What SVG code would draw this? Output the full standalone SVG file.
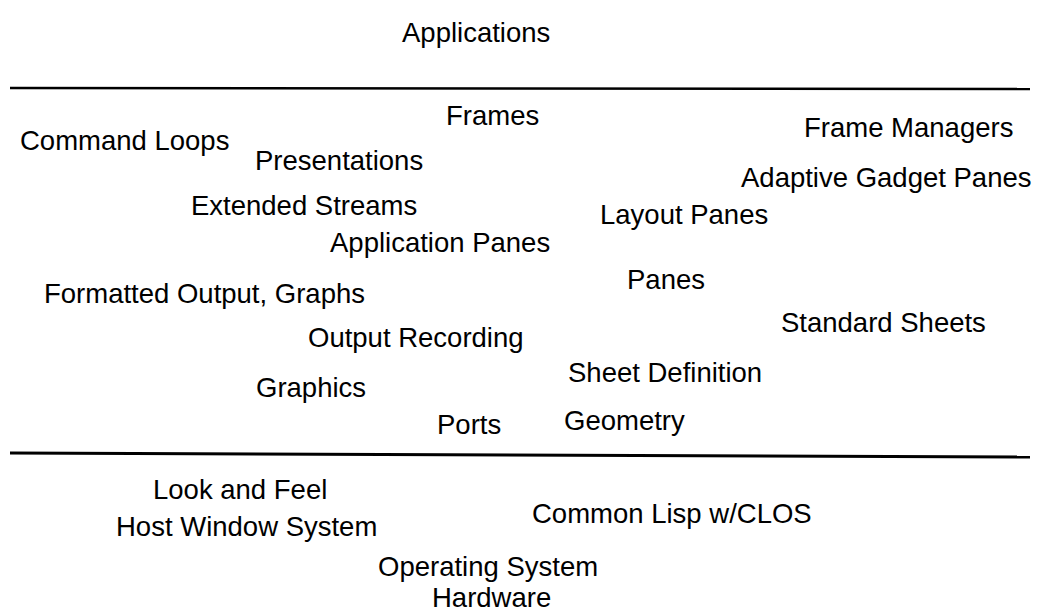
<svg xmlns="http://www.w3.org/2000/svg" width="1039" height="613" viewBox="0 0 1039 613">
<style>
text{font-family:"Liberation Sans",Arial,sans-serif;font-size:27.5px;fill:#000}
.rule{stroke:#000;fill:none}
</style>
<rect width="1039" height="613" fill="#fff"/>
<g id="connectors">
<line class="rule" x1="10" y1="88" x2="1030" y2="89" stroke-width="2.5"/>
<line class="rule" x1="10" y1="453" x2="1030" y2="457" stroke-width="3"/>
</g>
<g id="applications"><text x="402" y="42">Applications</text></g>
<g id="frames"><text x="446" y="125">Frames</text></g>
<g id="command-loops"><text x="20" y="150">Command Loops</text></g>
<g id="frame-managers"><text x="804" y="137">Frame Managers</text></g>
<g id="presentations"><text x="255" y="170">Presentations</text></g>
<g id="adaptive-gadget-panes"><text x="741" y="187">Adaptive Gadget Panes</text></g>
<g id="extended-streams"><text x="191" y="215">Extended Streams</text></g>
<g id="layout-panes"><text x="600" y="224">Layout Panes</text></g>
<g id="application-panes"><text x="330" y="252">Application Panes</text></g>
<g id="panes"><text x="627" y="289">Panes</text></g>
<g id="formatted-output"><text x="44" y="303">Formatted Output, Graphs</text></g>
<g id="standard-sheets"><text x="781" y="332">Standard Sheets</text></g>
<g id="output-recording"><text x="308" y="347">Output Recording</text></g>
<g id="sheet-definition"><text x="568" y="382">Sheet Definition</text></g>
<g id="graphics"><text x="256" y="397">Graphics</text></g>
<g id="ports"><text x="437" y="434">Ports</text></g>
<g id="geometry"><text x="564" y="430">Geometry</text></g>
<g id="look-and-feel"><text x="153" y="499">Look and Feel</text></g>
<g id="common-lisp"><text x="532" y="523">Common Lisp w/CLOS</text></g>
<g id="host-window-system"><text x="116" y="536">Host Window System</text></g>
<g id="operating-system"><text x="378" y="576">Operating System</text></g>
<g id="hardware"><text x="432" y="607">Hardware</text></g>
</svg>
